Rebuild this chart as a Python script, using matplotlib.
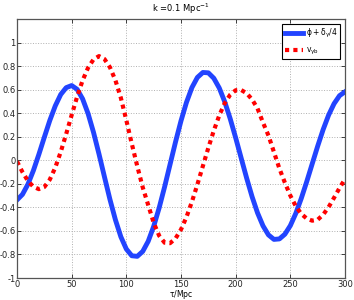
import numpy as np
import matplotlib
matplotlib.use('Agg')
import matplotlib.pyplot as plt

# conformal time grid (Mpc)
tau = [0, 5, 10, 15, 20, 25, 30, 35, 40, 45, 50, 55, 60, 65, 70, 75, 80, 85, 90, 95,
       100, 105, 110, 115, 120, 125, 130, 135, 140, 145, 150, 155, 160, 165, 170, 175,
       180, 185, 190, 195, 200, 205, 210, 215, 220, 225, 230, 235, 240, 245, 250, 255,
       260, 265, 270, 275, 280, 285, 290, 295, 300]

# phi + delta_gamma/4
phi_dg = [-0.337, -0.290, -0.204, -0.087, 0.050, 0.196, 0.338, 0.462, 0.559, 0.617,
          0.635, 0.603, 0.522, 0.397, 0.237, 0.053, -0.141, -0.332, -0.505, -0.650,
          -0.754, -0.811, -0.816, -0.774, -0.688, -0.562, -0.405, -0.226, -0.035, 0.156,
          0.335, 0.492, 0.618, 0.704, 0.746, 0.743, 0.697, 0.614, 0.497, 0.353,
          0.191, 0.020, -0.150, -0.309, -0.447, -0.557, -0.634, -0.672, -0.668, -0.628,
          -0.555, -0.451, -0.324, -0.181, -0.030, 0.120, 0.261, 0.384, 0.481, 0.549,
          0.582]

# baryon-photon velocity
v_gb = [-0.010, -0.100, -0.175, -0.225, -0.245, -0.227, -0.164, -0.062, 0.071, 0.224,
        0.384, 0.540, 0.678, 0.786, 0.857, 0.885, 0.860, 0.790, 0.680, 0.530,
        0.340, 0.140, -0.050, -0.230, -0.380, -0.530, -0.640, -0.700, -0.704, -0.664,
        -0.588, -0.482, -0.352, -0.205, -0.049, 0.106, 0.252, 0.381, 0.485, 0.557,
        0.595, 0.597, 0.570, 0.517, 0.440, 0.320, 0.210, 0.070, -0.070, -0.190,
        -0.300, -0.390, -0.455, -0.495, -0.513, -0.505, -0.462, -0.398, -0.318, -0.235,
        -0.160]

ytick_vals = [-1, -0.8, -0.6, -0.4, -0.2, 0, 0.2, 0.4, 0.6, 0.8, 1]
ytick_labels = ['-1', '-0.8', '-0.6', '-0.4', '-0.2', '0', '0.2', '0.4', '0.6', '0.8', '1']

plt.rcParams['mathtext.default'] = 'regular'
plt.rcParams['font.size'] = 6

fig = plt.figure(figsize=(3.54, 3.0), dpi=100)
ax = fig.add_axes([0.048, 0.0733, 0.9266, 0.8633])

ax.plot(tau, phi_dg, color='#2244ff', lw=3.5, label=r'$\phi + \delta_\gamma/4$')
ax.plot(tau, v_gb, color='#ff0000', lw=3, linestyle=(0, (1, 1)),
        label=r'$v_{\gamma b}$')

ax.set_xlim(0, 300)
ax.set_ylim(-1, 1.2)
ax.set_xticks([0, 50, 100, 150, 200, 250, 300])
ax.set_yticks(ytick_vals)
ax.set_yticklabels(ytick_labels)
ax.grid(True, linestyle=':', color='#b0b0b0', lw=0.7)
ax.tick_params(direction='in', top=True, right=True, length=3, width=0.6,
               pad=1.5, labelsize=6, colors='#222222')
ax.tick_params(axis='y', pad=1)
for s in ax.spines.values():
    s.set_color('#555555')
    s.set_linewidth(0.9)

ax.set_title(r'k =0.1 Mpc$^{-1}$', fontsize=6, pad=5)
ax.set_xlabel(r'$\tau$/Mpc', fontsize=5.5, va='top')
ax.xaxis.set_label_coords(0.5, -0.038)

leg = ax.legend(loc='upper right', fontsize=5.5, handlelength=2.4, fancybox=False,
                framealpha=1, edgecolor='black', borderpad=0.35, labelspacing=0.7,
                handletextpad=0.4, borderaxespad=0, bbox_to_anchor=(0.985, 0.98))
leg.get_frame().set_linewidth(0.8)

fig.savefig('out.png', dpi=100)
